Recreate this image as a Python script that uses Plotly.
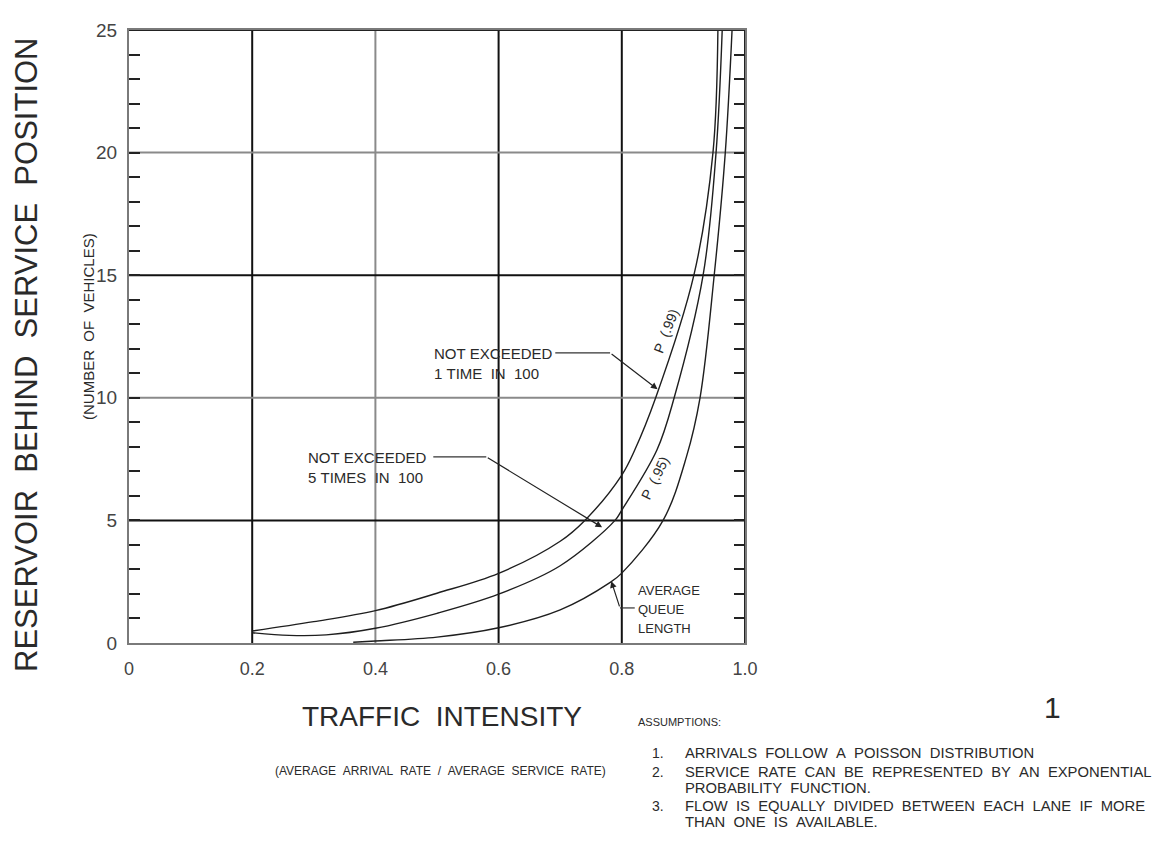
import plotly.graph_objects as go

# ---------------- data ----------------
p99_x = [0.2, 0.3, 0.4, 0.5, 0.6, 0.7, 0.74, 0.8, 0.821, 0.855, 0.917, 0.948, 0.956]
p99_y = [0.49, 0.87, 1.32, 2.03, 2.84, 4.15, 5.0, 6.85, 7.87, 10, 15, 20, 25]

p95_x = [0.2, 0.26, 0.32, 0.4, 0.5, 0.6, 0.7, 0.789, 0.8, 0.857, 0.885, 0.932, 0.953, 0.963]
p95_y = [0.42, 0.31, 0.33, 0.60, 1.21, 1.99, 3.15, 5.0, 5.42, 7.87, 10, 15, 20, 25]

avg_x = [0.364, 0.4, 0.5, 0.6, 0.7, 0.78, 0.8, 0.867, 0.905, 0.927, 0.95, 0.968, 0.979]
avg_y = [0.03, 0.08, 0.24, 0.62, 1.35, 2.45, 2.85, 5.0, 7.6, 10, 15, 20, 25]

x_ticks = [0, 0.2, 0.4, 0.6, 0.8, 1.0]
x_ticklabels = ["0", "0.2", "0.4", "0.6", "0.8", "1.0"]
y_ticks = [0, 5, 10, 15, 20, 25]
y_ticklabels = ["0", "5", "10", "15", "20", "25"]

x_grid_major = [0.2, 0.6, 0.8]
x_grid_minor = [0.4]
y_grid_major = [5, 15]
y_grid_minor = [10, 20]

x_range = [0, 1.0]
y_range = [0, 25]

assumption_numbers = ["1.", "2.", "", "3.", ""]
assumption_lines = [
    "ARRIVALS  FOLLOW  A  POISSON  DISTRIBUTION",
    "SERVICE  RATE  CAN  BE  REPRESENTED  BY  AN  EXPONENTIAL",
    "PROBABILITY  FUNCTION.",
    "FLOW  IS  EQUALLY  DIVIDED  BETWEEN  EACH  LANE  IF  MORE",
    "THAN  ONE  IS  AVAILABLE.",
]

# ---------------- layout geometry ----------------
OFF = 8                      # page body margin of the browser
W, H = 1166 - 2 * OFF, 842 - 2 * OFF
L, R, T, B = 129, 745, 30, 643  # plot area in viewport pixels


def paper(px, py):
    return (px - L) / (R - L), (B - py) / (B - T)


FONT = "Liberation Sans, Arial, sans-serif"
TXT = "#2a2a2a"
NB = "\u00a0"


def sp(s):
    return s.replace("  ", NB + NB)


fig = go.Figure()

line_style = dict(color="#1e1e1e", width=1.4, shape="spline", smoothing=1.0)
fig.add_trace(go.Scatter(x=p99_x, y=p99_y, mode="lines", line=line_style,
                         name="P(.99)", hoverinfo="skip"))
fig.add_trace(go.Scatter(x=p95_x, y=p95_y, mode="lines", line=line_style,
                         name="P(.95)", hoverinfo="skip"))
fig.add_trace(go.Scatter(x=avg_x, y=avg_y, mode="lines", line=line_style,
                         name="Average queue length", hoverinfo="skip"))

shapes = []
for gx in x_grid_major:
    shapes.append(dict(type="line", xref="x", yref="y", x0=gx, x1=gx,
                       y0=y_range[0], y1=y_range[1],
                       line=dict(color="#111111", width=2), layer="below"))
for gx in x_grid_minor:
    shapes.append(dict(type="line", xref="x", yref="y", x0=gx, x1=gx,
                       y0=y_range[0], y1=y_range[1],
                       line=dict(color="#8a8a8a", width=2), layer="below"))
for gy in y_grid_major:
    shapes.append(dict(type="line", xref="x", yref="y", y0=gy, y1=gy,
                       x0=x_range[0], x1=x_range[1],
                       line=dict(color="#111111", width=2), layer="below"))
for gy in y_grid_minor:
    shapes.append(dict(type="line", xref="x", yref="y", y0=gy, y1=gy,
                       x0=x_range[0], x1=x_range[1],
                       line=dict(color="#8a8a8a", width=2), layer="below"))
# top and right borders (black)
shapes.append(dict(type="line", xref="x", yref="y", x0=x_range[0], x1=x_range[1],
                   y0=y_range[1], y1=y_range[1], line=dict(color="#222", width=2)))
shapes.append(dict(type="line", xref="x", yref="y", x0=x_range[1], x1=x_range[1],
                   y0=y_range[0], y1=y_range[1], line=dict(color="#222", width=2)))

# leader lines: horizontal segment + arrow (data coords)
leaders = [
    ((0.692, 0.781), 11.83, (0.781, 11.83), (0.858, 10.35)),
    ((0.494, 0.580), 7.59, (0.580, 7.59), (0.768, 4.72)),
    ((0.797, 0.821), 1.43, (0.797, 1.43), (0.783, 2.52)),
]
annotations = []
for (hx, hy, tail, head) in leaders:
    shapes.append(dict(type="line", xref="x", yref="y", x0=hx[0], x1=hx[1],
                       y0=hy, y1=hy, line=dict(color="#333", width=1.2)))
    annotations.append(dict(x=head[0], y=head[1], ax=tail[0], ay=tail[1],
                            xref="x", yref="y", axref="x", ayref="y",
                            showarrow=True, arrowhead=2, arrowsize=1.1,
                            arrowwidth=1.2, arrowcolor="#222", text=""))


def add_text(text, px, py, size, xanchor="center", yanchor="middle",
             angle=0, family=FONT, color=TXT, align="left"):
    x, y = paper(px, py)
    annotations.append(dict(text=text, x=x, y=y, xref="paper", yref="paper",
                            xanchor=xanchor, yanchor=yanchor, showarrow=False,
                            textangle=angle, align=align,
                            font=dict(family=family, size=size, color=color)))


add_text("NOT" + NB + "EXCEEDED", 432, 353, 15, xanchor="left")
add_text("1" + NB + "TIME" + NB + NB + "IN" + NB + NB + "100", 432, 373, 15, xanchor="left")
add_text("NOT" + NB + "EXCEEDED", 306, 457, 15, xanchor="left")
add_text("5" + NB + "TIMES" + NB + NB + "IN" + NB + NB + "100", 306, 477, 15, xanchor="left")
add_text("AVERAGE", 636, 590, 13, xanchor="left")
add_text("QUEUE", 636, 609, 13, xanchor="left")
add_text("LENGTH", 636, 628, 13, xanchor="left")

add_text("P" + NB + NB + "(.99)", 666, 331, 14, angle=-69)
add_text("P" + NB + NB + "(.95)", 655, 478, 14, angle=-64)

# axis titles and notes
add_text(sp("RESERVOIR  BEHIND  SERVICE  POSITION"), 27, 355, 31, angle=-90)
add_text(sp("(NUMBER  OF  VEHICLES)"), 88, 327, 15, angle=-90)
add_text(sp("TRAFFIC  INTENSITY"), 442, 716, 28)
add_text(sp("(AVERAGE  ARRIVAL  RATE  /  AVERAGE  SERVICE  RATE)"), 441, 771, 12)
add_text("1", 1052, 707, 30)
add_text("ASSUMPTIONS:", 636, 722, 11, xanchor="left")

line_y = [753, 772, 788, 806, 822]
for num, txt, yy in zip(assumption_numbers, assumption_lines, line_y):
    if num:
        add_text(num, 650, yy, 14, xanchor="left")
    add_text(sp(txt), 683, yy, 14.8, xanchor="left")

fig.update_layout(
    width=W, height=H,
    margin=dict(l=L - OFF, r=W - (R - OFF), t=T - OFF, b=H - (B - OFF), pad=0),
    paper_bgcolor="white", plot_bgcolor="white",
    showlegend=False,
    shapes=shapes,
    annotations=annotations,
    xaxis=dict(range=x_range, tickvals=x_ticks, ticktext=x_ticklabels,
               showgrid=False, zeroline=False, ticks="",
               showline=True, linecolor="#7a7a7a", linewidth=2, mirror=True,
               tickfont=dict(family=FONT, size=18, color="#444"),
               ticklabelstandoff=8, fixedrange=True),
    yaxis=dict(range=y_range, tickvals=y_ticks, ticktext=y_ticklabels,
               showgrid=False, zeroline=False,
               ticks="inside", ticklen=11, tickwidth=2, tickcolor="#222",
               minor=dict(dtick=1, tick0=0, ticks="inside", ticklen=11,
                          tickwidth=2, tickcolor="#222", showgrid=False),
               showline=True, linecolor="#7a7a7a", linewidth=2, mirror="ticks",
               tickfont=dict(family=FONT, size=19, color="#444"),
               ticklabelstandoff=6, fixedrange=True),
)

fig.write_html("out.html")
